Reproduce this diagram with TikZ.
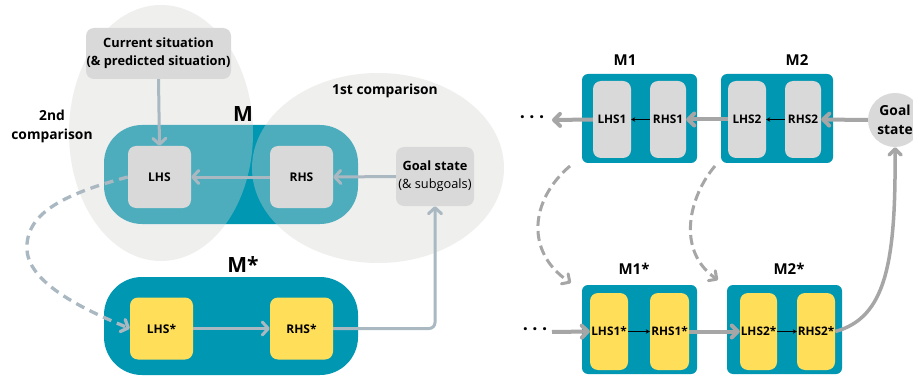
\documentclass[tikz,border=0pt]{standalone}
\usepackage{fontspec}
\setmainfont{Open Sans}
\usetikzlibrary{arrows.meta}
\definecolor{mteal}{HTML}{0097B2}
\definecolor{myellow}{HTML}{FFDE59}
\definecolor{mgray}{HTML}{D9D9D9}
\definecolor{ellfill}{RGB}{214,212,210}
\definecolor{arrL}{HTML}{AAB8C2}
\definecolor{arrR}{HTML}{A6A6A6}
\tikzset{
  blob/.style={fill=mteal, rounded corners=38pt, inner sep=0pt},
  sblob/.style={fill=mteal, rounded corners=6pt, inner sep=0pt, minimum height=89pt},
  inbox/.style={rounded corners=8pt, minimum width=63pt, minimum height=62pt, inner sep=0pt, font=\fontsize{12}{14}\selectfont\bfseries},
  tall/.style={rounded corners=8pt, minimum height=77pt, inner sep=0pt, font=\fontsize{11.8}{14}\selectfont\bfseries},
  lbl/.style={inner sep=0pt, align=center, font=\fontsize{13.8}{19}\selectfont\bfseries},
  bigl/.style={inner sep=0pt, font=\fontsize{21}{23}\selectfont\bfseries},
  midl/.style={inner sep=0pt, font=\fontsize{15}{17}\selectfont\bfseries},
  dotl/.style={inner sep=0pt, font=\fontsize{18}{20}\selectfont\bfseries},
  larr/.style={draw=arrL, line width=3pt, -{Straight Barb[length=6pt,width=13pt,round]}},
  ldash/.style={draw=arrL, line width=3.3pt, dash pattern=on 9pt off 6pt, -{Straight Barb[length=6pt,width=13pt,round]}},
  rarr/.style={draw=arrR, line width=4pt, -{Straight Barb[length=6pt,width=12pt,round]}},
  rdash/.style={draw=arrR, line width=3pt, dash pattern=on 10pt off 5pt, -{Straight Barb[length=6pt,width=12pt,round]}},
  thin/.style={draw=black, line width=1pt, -{Stealth[length=4pt,width=4.5pt]}},
}
\begin{document}
\begin{tikzpicture}[x=1pt,y=-1pt]
\useasboundingbox (0,0) rectangle (913,377);
\fill[white] (0,0) rectangle (913,377);
\clip (0,0) rectangle (913,377);

% ---------- left part ----------
\node[blob, minimum width=254pt, minimum height=99pt] (M) at (231,174.5) {};
\fill[ellfill, opacity=0.37] (161,133) ellipse [x radius=92pt, y radius=128pt];
\fill[ellfill, opacity=0.37] (378,168) ellipse [x radius=126pt, y radius=95pt];

\node[blob, minimum width=254pt, minimum height=98pt] (Ms) at (231,326) {};

\node[fill=mgray, rounded corners=8pt, minimum width=145pt, minimum height=51pt, inner sep=0pt, align=center, font=\fontsize{12.8}{18}\selectfont\bfseries] (cur) at (158.5,53.5) {Current situation\\(\& predicted situation)};

\node[lbl] (c2) at (52,126) {2nd\\comparison};
\node[lbl] (c1) at (385,91) {1st comparison};
\node[bigl] (Mlab) at (243,114) {M};
\node[bigl] (Mslab) at (243,265) {M*};

\node[inbox, fill=mgray] (lhs) at (159.5,177) {LHS};
\node[inbox, fill=mgray] (rhs) at (301.5,177) {RHS};
\node[fill=mgray, rounded corners=8pt, minimum width=78pt, minimum height=59pt, inner sep=0pt, align=center, font=\fontsize{12.8}{18}\selectfont] (goal) at (435,176.5) {\textbf{Goal state}\\(\& subgoals)};

\node[inbox, fill=myellow] (lhss) at (161.5,328.5) {LHS*};
\node[inbox, fill=myellow] (rhss) at (301.5,328.5) {RHS*};

\draw[larr] (cur.south) -- (lhs.north);
\draw[larr] (rhs.west) -- (lhs.east);
\draw[larr] (goal.west) -- (rhs.east);
\draw[larr] (lhss.east) -- (rhss.west);
\draw[larr, rounded corners=6pt] (rhss.east) -| (goal.south);
\draw[ldash] (lhs.west) .. controls (60,195) and (25,215) .. (27,250) .. controls (29,285) and (90,312) .. (lhss.west);

% ---------- right part ----------
\node[sblob, minimum width=115pt] (M1) at (639.5,118.5) {};
\node[sblob, minimum width=112pt] (M2) at (777,118.5) {};
\node[sblob, minimum width=115pt] (M1s) at (639.5,329.5) {};
\node[sblob, minimum width=115pt] (M2s) at (784.5,329.5) {};

\node[midl] (M1lab) at (625,60) {M1};
\node[midl] (M2lab) at (797,60) {M2};
\node[midl] (M1slab) at (634,269) {M1*};
\node[midl] (M2slab) at (789,269) {M2*};

\node[tall, fill=mgray, minimum width=38pt] (lhs1) at (612,119.5) {LHS1};
\node[tall, fill=mgray, minimum width=36pt] (rhs1) at (668,119.5) {RHS1};
\node[tall, fill=mgray, minimum width=38pt] (lhs2) at (747,119.5) {LHS2};
\node[tall, fill=mgray, minimum width=36pt] (rhs2) at (803,119.5) {RHS2};

\node[tall, fill=myellow, minimum width=38pt] (lhs1s) at (609,331.5) {LHS1*};
\node[tall, fill=myellow, minimum width=39pt] (rhs1s) at (669.5,331.5) {RHS1*};
\node[tall, fill=myellow, minimum width=37pt] (lhs2s) at (758.5,331.5) {LHS2*};
\node[tall, fill=myellow, minimum width=38pt] (rhs2s) at (816,331.5) {RHS2*};

\node[circle, fill=mgray, minimum size=54pt, inner sep=0pt, align=center, font=\fontsize{13.8}{19}\selectfont\bfseries] (goal2) at (895,120) {Goal\\state};

\node[dotl] (dots1) at (532,120) {·\hspace{4.5pt}·\hspace{4.5pt}·};
\node[dotl] (dots2) at (535,332) {·\hspace{4.5pt}·\hspace{4.5pt}·};
\coordinate (d1tip) at (552,120);
\coordinate (d2start) at (552,332);

\draw[thin] (rhs1.west) -- (lhs1.east);
\draw[thin] (rhs2.west) -- (lhs2.east);
\draw[thin] (lhs1s.east) -- (rhs1s.west);
\draw[thin] (lhs2s.east) -- (rhs2s.west);

\draw[rarr] (lhs1.west) -- (d1tip);
\draw[rarr] (lhs2.west) -- (rhs1.east);
\draw[rarr] (goal2.west) -- (rhs2.east);
\draw[rarr] (d2start) -- (lhs1s.west);
\draw[rarr] (rhs1s.east) -- (lhs2s.west);
\draw[rarr, line width=3.5pt] (rhs2s.east) .. controls (885,318) and (896,265) .. (goal2.south);

\coordinate (c1a) at (570,166);
\coordinate (c1b) at (571,283);
\coordinate (c2a) at (715,166);
\coordinate (c2b) at (718,280);
\draw[rdash] (c1a) .. controls (530,200) and (525,252) .. (c1b);
\draw[rdash] (c2a) .. controls (690,195) and (675,250) .. (c2b);
\end{tikzpicture}
\end{document}
